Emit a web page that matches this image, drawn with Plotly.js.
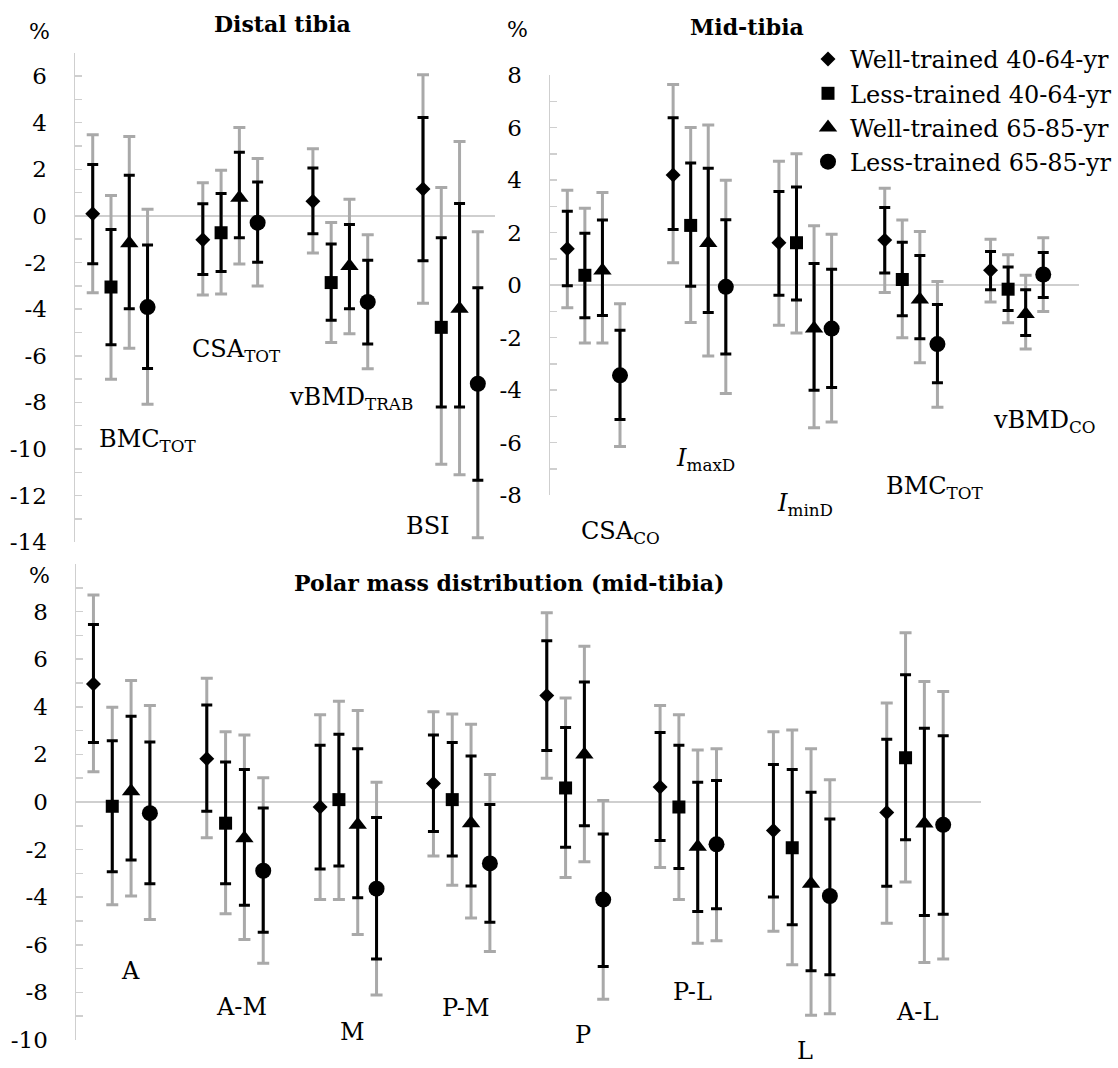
<!DOCTYPE html>
<html>
<head>
<meta charset="utf-8">
<script src="https://cdn.plot.ly/plotly-3.0.1.min.js"></script>
<style>html,body{margin:0;padding:0;background:#fff;}#chart{width:1118px;height:1068px;}</style>
</head>
<body>
<div id="chart"></div>
<script>
// ---------- DATA ----------
const seriesNames = ["Well-trained 40-64-yr", "Less-trained 40-64-yr", "Well-trained 65-85-yr", "Less-trained 65-85-yr"];

// Distal tibia
const distalCats = ["BMC_TOT", "CSA_TOT", "vBMD_TRAB", "BSI"];
const distalLabels = ["BMC<sub>TOT</sub>", "CSA<sub>TOT</sub>", "vBMD<sub>TRAB</sub>", "BSI"];
// rows = series (WT40, LT40, WT65, LT65)
const distalMean = [
  [0.09, -1.02, 0.63, 1.15],
  [-3.05, -0.72, -2.86, -4.78],
  [-1.17, 0.78, -2.15, -3.98],
  [-3.91, -0.29, -3.69, -7.20]
];
const distalInnerLow = [
  [-2.05, -2.51, -0.77, -1.92],
  [-5.53, -2.39, -4.48, -8.20],
  [-3.98, -0.94, -3.98, -8.20],
  [-6.55, -1.99, -5.49, -11.34]
];
const distalInnerHigh = [
  [2.21, 0.52, 2.05, 4.22],
  [-0.58, 0.96, -1.21, -0.94],
  [1.74, 2.73, -0.37, 0.53],
  [-1.25, 1.45, -1.90, -3.08]
];
const distalOuterLow = [
  [-3.30, -3.39, -1.59, -3.75],
  [-7.01, -3.35, -5.43, -10.65],
  [-5.68, -2.06, -5.06, -11.10],
  [-8.08, -3.01, -6.56, -13.80]
];
const distalOuterHigh = [
  [3.48, 1.42, 2.88, 6.05],
  [0.88, 1.96, -0.28, 1.22],
  [3.41, 3.79, 0.71, 3.19],
  [0.29, 2.46, -0.81, -0.68]
];
const distalTickVals = [6, 4, 2, 0, -2, -4, -6, -8, -10, -12, -14];
const distalTickText = ["6", "4", "2", "0", "-2", "-4", "-6", "-8", "-10", "-12", "-14"];

// Mid-tibia
const midCats = ["CSA_CO", "I_maxD", "I_minD", "BMC_TOT", "vBMD_CO"];
const midLabels = ["CSA<sub>CO</sub>", "<i>I</i><sub>maxD</sub>", "<i>I</i><sub>minD</sub>", "BMC<sub>TOT</sub>", "vBMD<sub>CO</sub>"];
const midMean = [
  [1.38, 4.19, 1.61, 1.71, 0.56],
  [0.37, 2.27, 1.61, 0.21, -0.16],
  [0.55, 1.60, -1.66, -0.55, -1.10],
  [-3.44, -0.07, -1.66, -2.25, 0.40]
];
const midInnerLow = [
  [-0.03, 2.11, -0.39, 0.46, -0.18],
  [-1.25, -0.05, -0.57, -1.17, -0.97],
  [-1.16, -1.05, -4.01, -2.05, -1.92],
  [-5.12, -2.63, -3.90, -3.72, -0.48]
];
const midInnerHigh = [
  [2.81, 6.37, 3.56, 2.95, 1.28],
  [1.97, 4.65, 3.73, 1.63, 0.69],
  [2.48, 4.45, 0.82, 1.12, -0.18],
  [-1.72, 2.49, 0.60, -0.74, 1.24]
];
const midOuterLow = [
  [-0.87, 0.85, -1.53, -0.29, -0.65],
  [-2.21, -1.43, -1.83, -2.01, -1.44],
  [-2.21, -2.70, -5.44, -2.96, -2.44],
  [-6.15, -4.13, -5.22, -4.66, -1.01]
];
const midOuterHigh = [
  [3.61, 7.64, 4.71, 3.69, 1.74],
  [2.92, 6.00, 5.00, 2.48, 1.15],
  [3.52, 6.10, 2.26, 2.04, 0.37],
  [-0.71, 3.99, 1.93, 0.13, 1.80]
];
const midTickVals = [8, 6, 4, 2, 0, -2, -4, -6, -8];
const midTickText = ["8", "6", "4", "2", "0", "-2", "-4", "-6", "-8"];

// Polar mass distribution (mid-tibia)
const polarCats = ["A", "A-M", "M", "P-M", "P", "P-L", "L", "A-L"];
const polarLabels = ["A", "A-M", "M", "P-M", "P", "P-L", "L", "A-L"];
const polarMean = [
  [4.96, 1.82, -0.21, 0.78, 4.47, 0.63, -1.20, -0.44],
  [-0.18, -0.89, 0.10, 0.10, 0.59, -0.21, -1.92, 1.86],
  [0.45, -1.52, -0.96, -0.89, 2.00, -1.88, -3.43, -0.90],
  [-0.47, -2.89, -3.64, -2.58, -4.10, -1.78, -3.95, -0.96]
];
const polarInnerLow = [
  [2.50, -0.39, -2.82, -1.24, 2.16, -1.62, -3.99, -3.54],
  [-2.93, -3.43, -2.69, -2.27, -1.90, -2.79, -5.16, -1.59],
  [-2.44, -4.34, -4.02, -3.53, -1.00, -4.60, -7.09, -4.77],
  [-3.43, -5.47, -6.60, -5.05, -6.91, -4.49, -7.26, -4.72]
];
const polarInnerHigh = [
  [7.46, 4.08, 2.38, 2.81, 6.78, 2.92, 1.58, 2.64],
  [2.57, 1.68, 2.85, 2.50, 3.13, 2.38, 1.37, 5.35],
  [3.60, 1.37, 2.24, 1.93, 5.04, 0.83, 0.41, 3.10],
  [2.52, -0.25, -0.65, -0.11, -1.34, 0.90, -0.71, 2.78]
];
const polarOuterLow = [
  [1.27, -1.50, -4.10, -2.27, 1.00, -2.75, -5.43, -5.09],
  [-4.32, -4.70, -4.10, -3.50, -3.17, -4.10, -6.84, -3.36],
  [-3.95, -5.78, -5.57, -4.87, -2.51, -5.94, -8.96, -6.74],
  [-4.94, -6.78, -8.11, -6.28, -8.29, -5.83, -8.90, -6.60]
];
const polarOuterHigh = [
  [8.70, 5.20, 3.67, 3.79, 7.95, 4.05, 2.95, 4.16],
  [3.98, 2.95, 4.23, 3.70, 4.37, 3.67, 3.03, 7.11],
  [5.11, 2.81, 3.84, 3.27, 6.54, 2.19, 2.24, 5.06],
  [4.05, 1.02, 0.83, 1.16, 0.06, 2.24, 0.94, 4.64]
];
const polarTickVals = [10, 8, 6, 4, 2, 0, -2, -4, -6, -8, -10];
const polarTickText = ["", "8", "6", "4", "2", "0", "-2", "-4", "-6", "-8", "-10"];

// ---------- STYLE ----------
const FONT = "DejaVu Serif";
const symbols = ["diamond", "square", "triangle-up", "circle"];
const symSizes = [11.5, 13, 16, 16];
const GRAY = "#a9a9a9";
const AXIS = "#cfcfcf";

// label positions: [category index, pixel y from top]
const panels = [
  {cats: distalCats, labels: distalLabels, mean: distalMean, il: distalInnerLow, ih: distalInnerHigh, ol: distalOuterLow, oh: distalOuterHigh, xa: "x", ya: "y", legend: false,
   labelPos: [[0.25, 440], [1.06, 351], [2.10, 398], [2.80, 526]]},
  {cats: midCats, labels: midLabels, mean: midMean, il: midInnerLow, ih: midInnerHigh, ol: midOuterLow, oh: midOuterHigh, xa: "x2", ya: "y2", legend: true,
   labelPos: [[0.25, 532], [1.06, 459], [2.0, 504], [3.23, 487], [4.26, 421]]},
  {cats: polarCats, labels: polarLabels, mean: polarMean, il: polarInnerLow, ih: polarInnerHigh, ol: polarOuterLow, oh: polarOuterHigh, xa: "x3", ya: "y3", legend: false,
   labelPos: [[0.08, 971], [1.06, 1007], [2.04, 1032], [3.04, 1008], [4.07, 1035], [5.04, 992], [6.03, 1051], [7.02, 1012]]}
];

const traces = [];
panels.forEach(function (p, pi) {
  for (let s = 0; s < 4; s++) {
    const m = p.mean[s];
    traces.push({
      type: "scatter", mode: "markers", x: p.cats, y: m, xaxis: p.xa, yaxis: p.ya,
      offsetgroup: "s" + s, alignmentgroup: "g" + pi,
      marker: {symbol: symbols[s], size: symSizes[s], color: "#000", opacity: 0},
      error_y: {type: "data", symmetric: false,
        array: p.oh[s].map(function (v, i) { return v - m[i]; }),
        arrayminus: m.map(function (v, i) { return v - p.ol[s][i]; }),
        color: GRAY, thickness: 3, width: 6},
      showlegend: false, hoverinfo: "skip"
    });
  }
  for (let s = 0; s < 4; s++) {
    const m = p.mean[s];
    traces.push({
      type: "scatter", mode: "markers", x: p.cats, y: m, xaxis: p.xa, yaxis: p.ya,
      offsetgroup: "s" + s, alignmentgroup: "g" + pi,
      name: seriesNames[s],
      marker: {symbol: symbols[s], size: symSizes[s], color: "#000", line: {width: 0}},
      error_y: {type: "data", symmetric: false,
        array: p.ih[s].map(function (v, i) { return v - m[i]; }),
        arrayminus: m.map(function (v, i) { return v - p.il[s][i]; }),
        color: "#000", thickness: 3, width: 5.5},
      showlegend: p.legend
    });
  }
});

function yax(domain, range, tv, tt) {
  return {
    domain: domain, range: range, showgrid: false,
    showline: true, linecolor: AXIS, linewidth: 1.5,
    ticks: "inside", ticklen: 7, tickcolor: AXIS, tickwidth: 1.5,
    tickmode: "array", tickvals: tv, ticktext: tt,
    tickfont: {family: FONT, size: 23, color: "#000"},
    ticklabelstandoff: 22,
    zeroline: true, zerolinecolor: AXIS, zerolinewidth: 1.5,
    minor: {tickmode: "linear", tick0: 0, dtick: 1, ticks: "inside", ticklen: 7, tickcolor: AXIS, tickwidth: 1.5, showgrid: false},
    fixedrange: true
  };
}
function xax(domain, range, anchor) {
  return {domain: domain, range: range, type: "category", anchor: anchor, showgrid: false, showline: false, zeroline: false, showticklabels: false, ticks: "", fixedrange: true};
}

const W = 1118, H = 1068;
const px = function (v) { return v / W; };
const py = function (v) { return 1 - v / H; };

const annotations = [];
panels.forEach(function (p) {
  p.labels.forEach(function (lab, i) {
    annotations.push({text: lab, x: p.labelPos[i][0], y: py(p.labelPos[i][1]), xref: p.xa, yref: "paper",
      showarrow: false, font: {family: FONT, size: 24, color: "#000"}, xanchor: "center", yanchor: "middle"});
  });
});
[["<b>Distal tibia</b>", 282, 24], ["<b>Mid-tibia</b>", 747, 27], ["<b>Polar mass distribution (mid-tibia)</b>", 509, 583]].forEach(function (t) {
  annotations.push({text: t[0], x: px(t[1]), y: py(t[2]), xref: "paper", yref: "paper", showarrow: false,
    font: {family: FONT, size: 22, color: "#000"}, xanchor: "center", yanchor: "middle"});
});
[[39, 32], [517, 30], [39, 575]].forEach(function (t) {
  annotations.push({text: "%", x: px(t[0]), y: py(t[1]), xref: "paper", yref: "paper", showarrow: false,
    font: {family: FONT, size: 22, color: "#000"}, xanchor: "center", yanchor: "middle"});
});

const layout = {
  width: W, height: H, margin: {l: 0, r: 0, t: 0, b: 0},
  paper_bgcolor: "#fff", plot_bgcolor: "rgba(0,0,0,0)",
  scattermode: "group", scattergap: 0.336,
  showlegend: true,
  legend: {x: px(806), xanchor: "left", y: py(37), yanchor: "top", font: {family: FONT, size: 24, color: "#000"},
    itemwidth: 34, bgcolor: "rgba(0,0,0,0)", tracegroupgap: 0},
  xaxis: xax([px(75), px(495)], [-0.41, 3.405], "y"),
  yaxis: yax([1 - 542.3 / H, 1 - 52.7 / H], [-14, 7], distalTickVals, distalTickText),
  xaxis2: xax([px(550), px(1079)], [-0.4126, 4.587], "y2"),
  yaxis2: Object.assign(yax([1 - 495 / H, 1 - 75 / H], [-8, 8], midTickVals, midTickText), {anchor: "x2"}),
  xaxis3: xax([px(76), px(980.7)], [-0.403, 7.58], "y3"),
  yaxis3: Object.assign(yax([1 - 1040 / H, 1 - 564 / H], [-10, 10], polarTickVals, polarTickText), {anchor: "x3"}),
  annotations: annotations,
  font: {family: FONT}
};
layout.yaxis.anchor = "x";

Plotly.newPlot("chart", traces, layout, {displayModeBar: false, staticPlot: true});
</script>
</body>
</html>
